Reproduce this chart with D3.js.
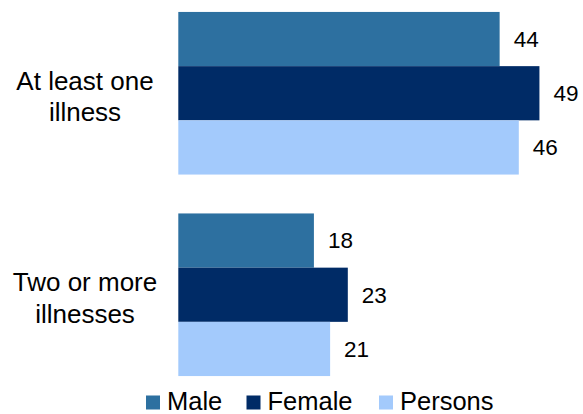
<!DOCTYPE html>
<html>
<head>
<meta charset="utf-8">
<script src="https://cdn.jsdelivr.net/npm/d3@7"></script>
<style>
  html, body { margin: 0; padding: 0; background: #fff; }
  svg { display: block; font-family: Arial, "Liberation Sans", sans-serif; }
</style>
</head>
<body>
<svg id="chart" width="583" height="414"></svg>
<script>
const categories = ["At least one illness", "Two or more illnesses"];
const categoryLines = [["At least one", "illness"], ["Two or more", "illnesses"]];
const seriesNames = ["Male", "Female", "Persons"];
const maleValues = [43.6, 18.4];
const femaleValues = [49.0, 23.0];
const personsValues = [46.2, 20.6];
const colors = ["#2D70A0", "#002B66", "#A3CAFC"];

const seriesValues = [maleValues, femaleValues, personsValues];
const svg = d3.select("#chart");

const x = d3.scaleLinear().domain([0, 55]).range([178.3, 178.3 + 55 * 7.37]);
const y = d3.scaleBand().domain(categories)
  .range([12 - 19.5, 376 + 19.5]).paddingInner(0.193).paddingOuter(0.0965);
const ys = d3.scaleBand().domain(seriesNames).range([0, y.bandwidth()]).padding(0);

const fmt = d3.format(".0f");

const groups = svg.append("g").selectAll("g")
  .data(categories).join("g")
  .attr("transform", c => `translate(0,${y(c)})`);

groups.each(function (c, ci) {
  const g = d3.select(this);
  seriesNames.forEach((s, si) => {
    const v = seriesValues[si][ci];
    g.append("rect")
      .attr("x", x(0))
      .attr("y", ys(s))
      .attr("width", x(v) - x(0))
      .attr("height", ys.bandwidth())
      .attr("fill", colors[si]);
    g.append("text")
      .attr("x", x(v) + 14)
      .attr("y", ys(s) + ys.bandwidth() / 2 + 2)
      .attr("dominant-baseline", "middle")
      .attr("font-size", 22.5)
      .attr("fill", "#000")
      .text(fmt(v));
  });
});

// category axis labels
const labelG = svg.append("g");
categories.forEach((c, ci) => {
  const cy = y(c) + y.bandwidth() / 2;
  const t = labelG.append("text")
    .attr("x", 85)
    .attr("text-anchor", "middle")
    .attr("font-size", 26)
    .attr("fill", "#000");
  categoryLines[ci].forEach((ln, li) => {
    t.append("tspan")
      .attr("x", 85)
      .attr("y", cy - 3.5 + li * 31.5)
      .text(ln);
  });
});

// legend
const legendX = [146, 246.5, 379];
const legend = svg.append("g");
seriesNames.forEach((s, i) => {
  legend.append("rect")
    .attr("x", legendX[i]).attr("y", 395.5)
    .attr("width", 14).attr("height", 14)
    .attr("fill", colors[i]);
  legend.append("text")
    .attr("x", legendX[i] + 21)
    .attr("y", 410)
    .attr("font-size", 25.5)
    .attr("fill", "#000")
    .text(s);
});
</script>
</body>
</html>
